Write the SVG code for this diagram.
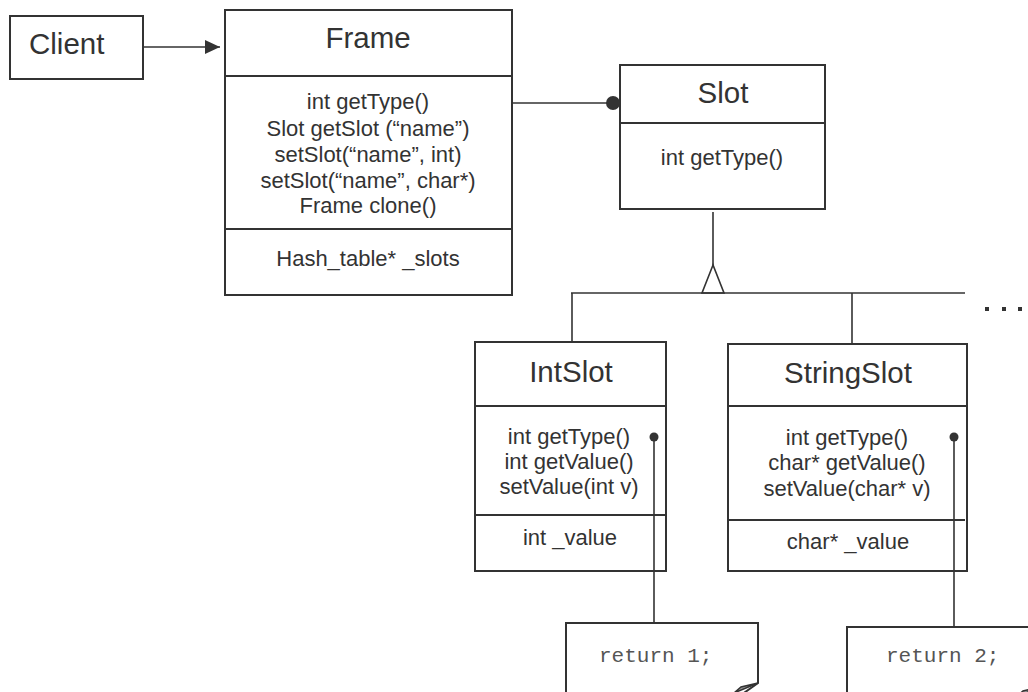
<svg xmlns="http://www.w3.org/2000/svg" width="1028" height="692" viewBox="0 0 1028 692">
<style>
.box{fill:#fff;stroke:#333;stroke-width:2}
.div{stroke:#333;stroke-width:1.8;fill:none}
.ln{stroke:#333;stroke-width:1.6;fill:none}
.t{font-family:"Liberation Sans",Arial,sans-serif;fill:#333;text-anchor:middle}
.title{font-size:29.5px}
.m{font-size:22px}
.code{font-family:"Liberation Mono","Courier New",monospace;font-size:21px;fill:#555}
</style>
<defs>
<marker id="arr" markerWidth="16" markerHeight="14" refX="15" refY="7" orient="auto" markerUnits="userSpaceOnUse">
<path d="M0,0 L15,7 L0,14 Z" fill="#333"/>
</marker>
</defs>
<rect width="1028" height="692" fill="#fff"/>

<g id="client">
<rect class="box" x="10" y="16" width="133" height="63"/>
<text class="t title" x="29" y="54" style="text-anchor:start">Client</text>
</g>

<g id="frame">
<rect class="box" x="225" y="10" width="287" height="285"/>
<line class="div" x1="225" y1="76" x2="512" y2="76"/>
<line class="div" x1="225" y1="229" x2="512" y2="229"/>
<text class="t title" x="368" y="48">Frame</text>
<text class="t m" x="368" y="109">int getType()</text>
<text class="t m" x="368" y="136">Slot getSlot (“name”)</text>
<text class="t m" x="368" y="162">setSlot(“name”, int)</text>
<text class="t m" x="368" y="188">setSlot(“name”, char*)</text>
<text class="t m" x="368" y="213">Frame clone()</text>
<text class="t m" x="368" y="266">Hash_table* _slots</text>
</g>

<g id="slot">
<rect class="box" x="620" y="65" width="205" height="144"/>
<line class="div" x1="620" y1="123" x2="825" y2="123"/>
<text class="t title" x="723" y="103">Slot</text>
<text class="t m" x="722" y="165">int getType()</text>
</g>

<g id="intslot">
<rect class="box" x="475" y="342" width="191" height="229"/>
<line class="div" x1="475" y1="406" x2="666" y2="406"/>
<line class="div" x1="475" y1="515" x2="667" y2="515"/>
<text class="t title" x="571" y="382">IntSlot</text>
<text class="t m" x="569" y="444">int getType()</text>
<text class="t m" x="569" y="469">int getValue()</text>
<text class="t m" x="569" y="494">setValue(int v)</text>
<text class="t m" x="570" y="545">int _value</text>
</g>

<g id="stringslot">
<rect class="box" x="728" y="344" width="239" height="227"/>
<line class="div" x1="728" y1="406" x2="967" y2="406"/>
<line class="div" x1="728" y1="520" x2="965" y2="520"/>
<text class="t title" x="848" y="383">StringSlot</text>
<text class="t m" x="847" y="445">int getType()</text>
<text class="t m" x="847" y="470">char* getValue()</text>
<text class="t m" x="847" y="496">setValue(char* v)</text>
<text class="t m" x="848" y="549">char* _value</text>
</g>

<g id="note1">
<path class="box" d="M566,700 L566,623 L758,623 L758,683 L734,700"/>
<path d="M758,683 L741,687 L734,693 Z" fill="#999" stroke="#333" stroke-width="1.5"/>
<text class="code" x="599" y="662">return 1;</text>
</g>

<g id="note2">
<path class="box" d="M847,700 L847,627 L1040,627 L1040,687 L1016,700"/>
<path d="M1040,687 L1023,691 L1016,697 Z" fill="#999" stroke="#333" stroke-width="1.5"/>
<text class="code" x="886" y="662">return 2;</text>
</g>

<g id="ellipsis" fill="#333">
<rect x="985" y="307" width="4" height="4"/>
<rect x="1002" y="307" width="4" height="4"/>
<rect x="1018" y="307" width="4" height="4"/>
</g>

<g id="connectors">
<line class="ln" x1="143" y1="47" x2="220" y2="47" marker-end="url(#arr)"/>
<line class="ln" x1="512" y1="103" x2="613" y2="103"/>
<circle cx="613" cy="103" r="7" fill="#333"/>
<line class="ln" x1="713" y1="212" x2="713" y2="265"/>
<path class="ln" d="M713,265 L702,293 L724,293 Z" fill="#fff"/>
<line class="ln" x1="571" y1="293" x2="965" y2="293"/>
<line class="ln" x1="572" y1="293" x2="572" y2="342"/>
<line class="ln" x1="852" y1="293" x2="852" y2="344"/>
<line class="ln" x1="654" y1="437" x2="654" y2="623"/>
<circle cx="654" cy="437" r="4.5" fill="#333"/>
<line class="ln" x1="954" y1="437" x2="954" y2="627"/>
<circle cx="954" cy="437" r="4.5" fill="#333"/>
</g>
</svg>
